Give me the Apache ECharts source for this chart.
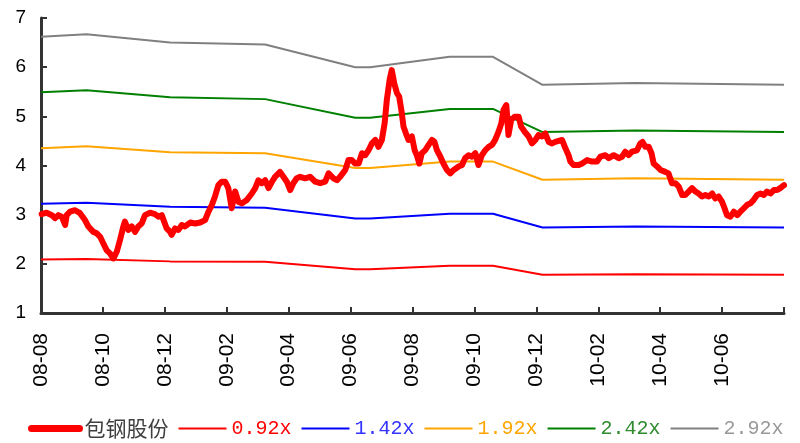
<!DOCTYPE html>
<html>
<head>
<meta charset="utf-8">
<script src="https://cdn.jsdelivr.net/npm/echarts@6/dist/echarts.min.js"></script>
<style>
  html, body { margin: 0; padding: 0; background: #fff; }
  #chart { width: 800px; height: 443px; }
</style>
</head>
<body>
<div id="chart"></div>
<script>
// x is counted in months from 2008-08
var tickLabels = ['08-08', '08-10', '08-12', '09-02', '09-04', '09-06', '09-08', '09-10', '09-12', '10-02', '10-04', '10-06']

var priceMonths = [0.02,0.18,0.35,0.45,0.56,0.67,0.78,0.83,0.94,1.10,
    1.26,1.42,1.53,1.69,1.80,1.91,2.01,2.12,2.23,2.34,
    2.45,2.55,2.66,2.71,2.82,2.93,3.04,3.14,3.25,3.36,
    3.52,3.68,3.79,3.90,4.06,4.17,4.22,4.33,4.44,4.55,
    4.65,4.82,4.98,5.14,5.30,5.41,5.52,5.62,5.73,5.84,
    5.95,6.05,6.16,6.27,6.38,6.49,6.65,6.81,6.92,7.02,
    7.13,7.24,7.35,7.46,7.56,7.72,7.83,7.94,8.05,8.15,
    8.26,8.37,8.53,8.69,8.86,9.02,9.18,9.29,9.45,9.56,
    9.66,9.83,9.93,10.04,10.15,10.26,10.37,10.47,10.58,10.69,
    10.80,10.90,11.01,11.10,11.17,11.26,11.33,11.41,11.50,11.57,
    11.64,11.71,11.79,11.87,11.98,12.07,12.14,12.22,12.30,12.41,
    12.52,12.63,12.71,12.79,12.90,13.00,13.11,13.22,13.33,13.49,
    13.60,13.70,13.81,13.92,14.03,14.13,14.24,14.35,14.46,14.57,
    14.67,14.78,14.87,14.94,15.03,15.10,15.19,15.30,15.43,15.51,
    15.62,15.75,15.86,15.97,16.07,16.18,16.29,16.40,16.51,16.61,
    16.72,16.83,16.94,17.04,17.10,17.20,17.37,17.48,17.64,17.80,
    17.96,18.07,18.23,18.34,18.50,18.66,18.77,18.87,18.98,19.09,
    19.25,19.36,19.43,19.52,19.63,19.72,19.79,19.90,20.01,20.17,
    20.27,20.38,20.49,20.60,20.71,20.81,20.92,21.03,21.14,21.24,
    21.35,21.46,21.57,21.68,21.78,21.89,22.00,22.08,22.16,22.27,
    22.38,22.49,22.59,22.70,22.81,22.92,23.02,23.13,23.24,23.35,
    23.45,23.56,23.67,23.78,23.88,24.0]

var priceValues = [3.01,3.04,2.99,2.93,2.99,2.96,2.79,2.99,3.06,3.09,
    3.03,2.89,2.76,2.65,2.62,2.55,2.42,2.28,2.21,2.11,
    2.25,2.48,2.76,2.86,2.69,2.76,2.65,2.76,2.82,2.99,
    3.04,3.01,2.96,2.99,2.72,2.65,2.59,2.72,2.69,2.79,
    2.76,2.84,2.82,2.84,2.89,3.06,3.20,3.37,3.60,3.67,
    3.67,3.54,3.13,3.47,3.26,3.23,3.30,3.43,3.54,3.70,
    3.64,3.70,3.54,3.67,3.77,3.87,3.77,3.67,3.50,3.64,
    3.74,3.77,3.74,3.77,3.67,3.64,3.67,3.84,3.74,3.70,
    3.77,3.91,4.11,4.11,4.04,4.04,4.25,4.21,4.31,4.45,
    4.52,4.38,4.52,4.86,5.33,5.74,5.94,5.67,5.47,5.40,
    5.13,4.79,4.65,4.52,4.59,4.31,4.21,4.04,4.25,4.31,
    4.42,4.52,4.48,4.31,4.18,4.04,3.91,3.84,3.91,3.98,
    4.01,4.15,4.21,4.18,4.25,4.01,4.21,4.31,4.38,4.42,
    4.52,4.69,4.86,5.13,5.23,4.62,4.93,4.99,4.99,4.79,
    4.69,4.59,4.45,4.52,4.62,4.59,4.65,4.48,4.45,4.48,
    4.50,4.52,4.35,4.21,4.08,4.01,4.01,4.04,4.11,4.08,
    4.08,4.18,4.21,4.15,4.21,4.15,4.18,4.28,4.21,4.28,
    4.31,4.45,4.48,4.38,4.38,4.25,4.04,3.98,3.91,3.87,
    3.84,3.64,3.64,3.57,3.40,3.40,3.47,3.54,3.47,3.43,
    3.37,3.40,3.37,3.43,3.33,3.37,3.26,3.13,2.99,2.96,
    3.06,2.99,3.06,3.13,3.20,3.23,3.30,3.40,3.43,3.40,
    3.47,3.43,3.50,3.50,3.54,3.60]

// PB bands, corner points only
var bandMonths = [0, 1.47, 4.17, 7.24, 10.15, 10.63, 13.2, 14.6, 16.2, 19.2, 24]
var band092 = [2.09, 2.10, 2.05, 2.04, 1.89, 1.89, 1.96, 1.96, 1.78, 1.79, 1.78]
var band142 = [3.22, 3.24, 3.16, 3.14, 2.92, 2.92, 3.02, 3.02, 2.74, 2.76, 2.74]
var band192 = [4.35, 4.39, 4.27, 4.25, 3.95, 3.95, 4.08, 4.08, 3.71, 3.74, 3.71]
var band242 = [5.49, 5.53, 5.39, 5.35, 4.97, 4.97, 5.15, 5.15, 4.68, 4.71, 4.68]
var band292 = [6.62, 6.67, 6.50, 6.46, 6.00, 6.00, 6.21, 6.21, 5.64, 5.68, 5.64]

function pairs(xs, ys){
    return xs.map(function(x, i){ return [x, ys[i]] })
}

function bandSeries(name, data, color){
    return {
        name: name,
        type: 'line',
        data: pairs(bandMonths, data),
        symbol: 'none',
        lineStyle: { color: color, width: 2 },
        itemStyle: { color: color },
        z: 2
    }
}

function legendItem(name, color, size, font){
    return {
        name: name,
        itemStyle: { opacity: 0 },
        textStyle: { fontFamily: font, fontSize: size, color: color }
    }
}

var chart = echarts.init(document.getElementById('chart'))

var firstItem = legendItem('包钢股份', '#404040', 21, 'Noto Sans CJK SC')
firstItem.lineStyle = { width: 7, cap: 'round' }

var option = {
    animation: false,
    grid: { left: 41, right: 16, top: 18, bottom: 130 },
    legend: {
        left: 23,
        top: 413,
        itemWidth: 48,
        itemHeight: 14,
        itemGap: 9,
        itemStyle: { opacity: 0 },
        data: [
            firstItem,
            legendItem('0.92x', '#ff0000', 20, 'Liberation Mono'),
            legendItem('1.42x', '#3333ff', 20, 'Liberation Mono'),
            legendItem('1.92x', '#ffa500', 20, 'Liberation Mono'),
            legendItem('2.42x', '#2e8b2e', 20, 'Liberation Mono'),
            legendItem('2.92x', '#999999', 20, 'Liberation Mono')
        ]
    },
    xAxis: {
        type: 'value',
        min: 0,
        max: 24,
        interval: 2,
        splitLine: { show: false },
        axisLine: { onZero: false, lineStyle: { color: '#333', width: 3 } },
        axisTick: { inside: true, length: 6, lineStyle: { color: '#333', width: 2 } },
        axisLabel: {
            rotate: 90,
            margin: 20,
            fontFamily: 'Liberation Sans',
            fontSize: 21,
            color: '#000',
            formatter: function(v){ return tickLabels[v / 2] || '' }
        }
    },
    yAxis: {
        type: 'value',
        min: 1,
        max: 7,
        interval: 1,
        splitLine: { show: false },
        axisLine: { show: true, lineStyle: { color: '#333', width: 3 } },
        axisTick: { show: true, inside: true, length: 6, lineStyle: { color: '#333', width: 2 } },
        axisLabel: { margin: 15, fontFamily: 'Liberation Sans', fontSize: 19, color: '#000' }
    },
    series: [
        {
            name: '包钢股份',
            type: 'line',
            data: pairs(priceMonths, priceValues),
            symbol: 'none',
            lineStyle: { color: '#ff0000', width: 6, join: 'round', cap: 'round' },
            itemStyle: { color: '#ff0000' },
            z: 3
        },
        bandSeries('0.92x', band092, '#ff0000'),
        bandSeries('1.42x', band142, '#0000ff'),
        bandSeries('1.92x', band192, '#ffa500'),
        bandSeries('2.42x', band242, '#008000'),
        bandSeries('2.92x', band292, '#808080')
    ]
}
chart.setOption(option)
</script>
</body>
</html>
